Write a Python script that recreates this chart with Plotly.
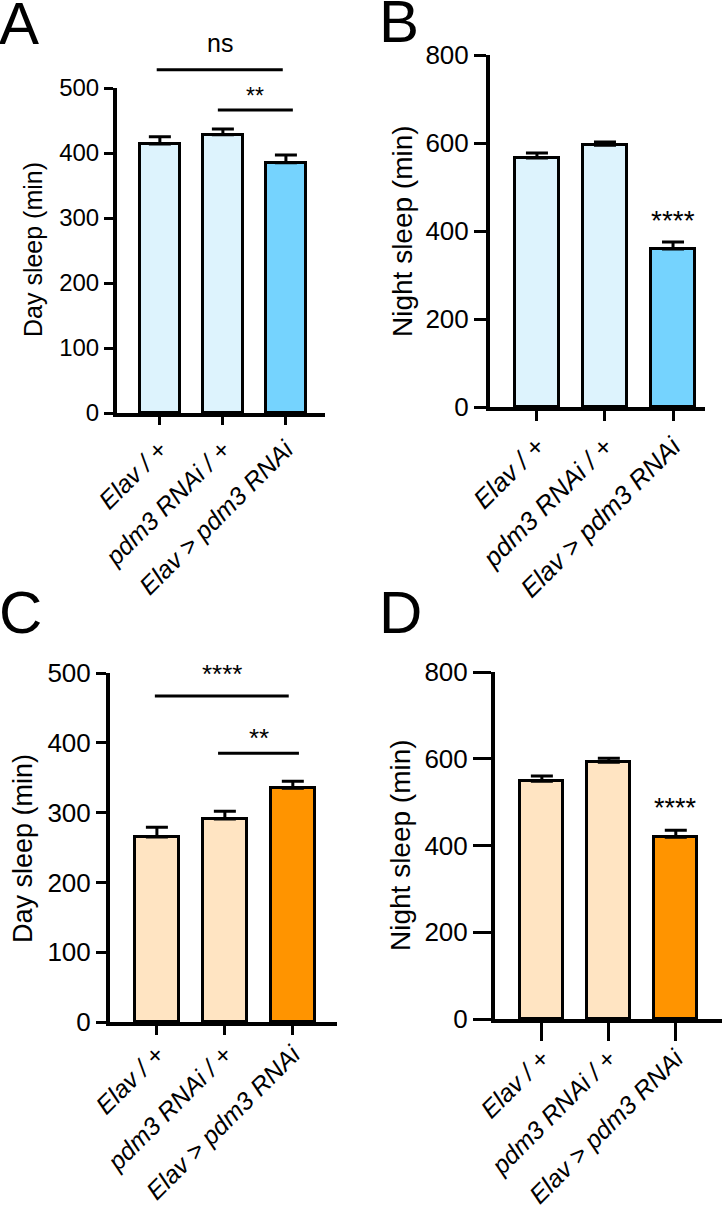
import plotly.graph_objects as go

# --- data (mean and SEM in minutes) ---
groups = ["Elav / +", "pdm3 RNAi / +", "Elav &gt; pdm3 RNAi"]

a_mean = [414, 428, 385]
a_sem = [11, 9, 12]
b_mean = [566, 595, 359]
b_sem = [11, 7, 16]
c_mean = [265, 291, 335]
c_sem = [14, 11, 10]
d_mean = [548, 592, 419]
d_sem = [12, 9, 16]

# significance: (from group, to group, bar level, label, label level)
a_sig = [(-0.05, 1.95, 528, "ns", 570), (0.92, 2.11, 466, "**", 487)]
b_sig = [(None, None, None, "****", 423)]
c_sig = [(-0.03, 1.94, 467, "****", 499), (0.90, 2.09, 385, "**", 407)]
d_sig = [(None, None, None, "****", 486)]

BLUE_L, BLUE_D = "#DDF3FD", "#75D3FE"
ORNG_L, ORNG_D = "#FFE4C2", "#FF9400"
FONT = "Arial, Liberation Sans, Helvetica, sans-serif"
W, H = 722, 1209

# pixel boxes of each panel: (left, right, top, bottom)
panels = [
    dict(letter="A", mean=a_mean, sem=a_sem, sig=a_sig, cols=[BLUE_L, BLUE_L, BLUE_D],
         title="Day sleep (min)", ymax=500, dtick=100, box=(117, 325, 88, 413),
         xr=(-0.68, 2.62), ylen=9, xlen=8, tf=24, yt=25, xf=25, sf=23, xso=0,
         tpos=(33, 250), lpos=(-3, 24)),
    dict(letter="B", mean=b_mean, sem=b_sem, sig=b_sig, cols=[BLUE_L, BLUE_L, BLUE_D],
         title="Night sleep (min)", ymax=800, dtick=200, box=(490, 705, 55, 407),
         xr=(-0.69, 2.47), ylen=12, xlen=10, tf=26, yt=28, xf=26, sf=28, xso=0,
         tpos=(402, 231), lpos=(377, 22)),
    dict(letter="C", mean=c_mean, sem=c_sem, sig=c_sig, cols=[ORNG_L, ORNG_L, ORNG_D],
         title="Day sleep (min)", ymax=500, dtick=100, box=(110, 337, 673, 1022),
         xr=(-0.69, 2.65), ylen=10, xlen=9, tf=26, yt=27, xf=25, sf=26, xso=-5,
         tpos=(23, 849), lpos=(-3, 612)),
    dict(letter="D", mean=d_mean, sem=d_sem, sig=d_sig, cols=[ORNG_L, ORNG_L, ORNG_D],
         title="Night sleep (min)", ymax=800, dtick=200, box=(495, 722, 672, 1019),
         xr=(-0.70, 2.69), ylen=18, xlen=18, tf=26, yt=28, xf=25, sf=27, xso=-7,
         tpos=(400, 845), lpos=(377, 612)),
]

fig = go.Figure()
shapes, annos = [], []
for i, p in enumerate(panels, start=1):
    xa = "x" if i == 1 else f"x{i}"
    ya = "y" if i == 1 else f"y{i}"
    l, r, t, b = p["box"]
    fig.add_trace(go.Bar(
        x=[0, 1, 2], y=p["mean"], width=0.64, xaxis=xa, yaxis=ya,
        marker=dict(color=p["cols"], line=dict(color="black", width=3)),
        error_y=dict(type="data", array=p["sem"], arrayminus=[0, 0, 0], symmetric=False,
                     color="black", thickness=3, width=11),
        showlegend=False, hoverinfo="skip",
    ))
    common = dict(showline=True, linewidth=4, linecolor="black", showgrid=False,
                  zeroline=False, ticks="outside", tickwidth=3, tickcolor="black",
                  automargin=False)
    fig.layout[xa.replace("x", "xaxis")] = dict(
        domain=[l / W, r / W], range=list(p["xr"]), anchor=ya,
        tickvals=[0, 1, 2], ticktext=[f"<i>{g}</i>" for g in groups], tickangle=-45,
        ticklabelstandoff=p["xso"],
        ticklen=p["xlen"], tickfont=dict(family=FONT, size=p["xf"], color="black"), **common)
    fig.layout[ya.replace("y", "yaxis")] = dict(
        domain=[1 - b / H, 1 - t / H], range=[0, p["ymax"]], dtick=p["dtick"], anchor=xa,
        ticklen=p["ylen"], tickfont=dict(family=FONT, size=p["tf"], color="black"), **common)

    # data -> paper helpers for this panel (annotations off the axis range would be hidden)
    x0r, x1r = p["xr"]
    px = lambda v: (l + (v - x0r) / (x1r - x0r) * (r - l)) / W
    py = lambda v: 1 - (b - v / p["ymax"] * (b - t)) / H

    for (g0, g1, lvl, lab, lab_y) in p["sig"]:
        if g0 is not None:
            shapes.append(dict(
                type="line", xref="paper", yref="paper",
                x0=px(g0), x1=px(g1), y0=py(lvl), y1=py(lvl),
                line=dict(color="black", width=3)))
            lab_x = (g0 + g1) / 2
        else:
            lab_x = 2
        fs = 25 if lab == "ns" else p["sf"]
        annos.append(dict(x=px(lab_x), y=py(lab_y), xref="paper", yref="paper",
                          text=lab, showarrow=False, xanchor="center", yanchor="middle",
                          font=dict(family=FONT, size=fs, color="black")))

    annos.append(dict(x=p["tpos"][0] / W, y=1 - p["tpos"][1] / H, xref="paper", yref="paper",
                      text=p["title"], textangle=-90, showarrow=False,
                      xanchor="center", yanchor="middle",
                      font=dict(family=FONT, size=p["yt"], color="black")))
    annos.append(dict(x=p["lpos"][0] / W, y=1 - p["lpos"][1] / H, xref="paper", yref="paper",
                      text=p["letter"], showarrow=False, xanchor="left", yanchor="middle",
                      font=dict(family=FONT, size=60, color="black")))

fig.update_layout(
    width=W, height=H, autosize=False, margin=dict(l=0, r=0, t=0, b=0, autoexpand=False),
    paper_bgcolor="white", plot_bgcolor="white", bargap=0,
    shapes=shapes, annotations=annos, showlegend=False,
)
# drop the page's default 8px body margin so the figure sits at the window origin
fig.write_html("out.html", config={"displayModeBar": False},
               post_script="document.body.style.margin='0';")
